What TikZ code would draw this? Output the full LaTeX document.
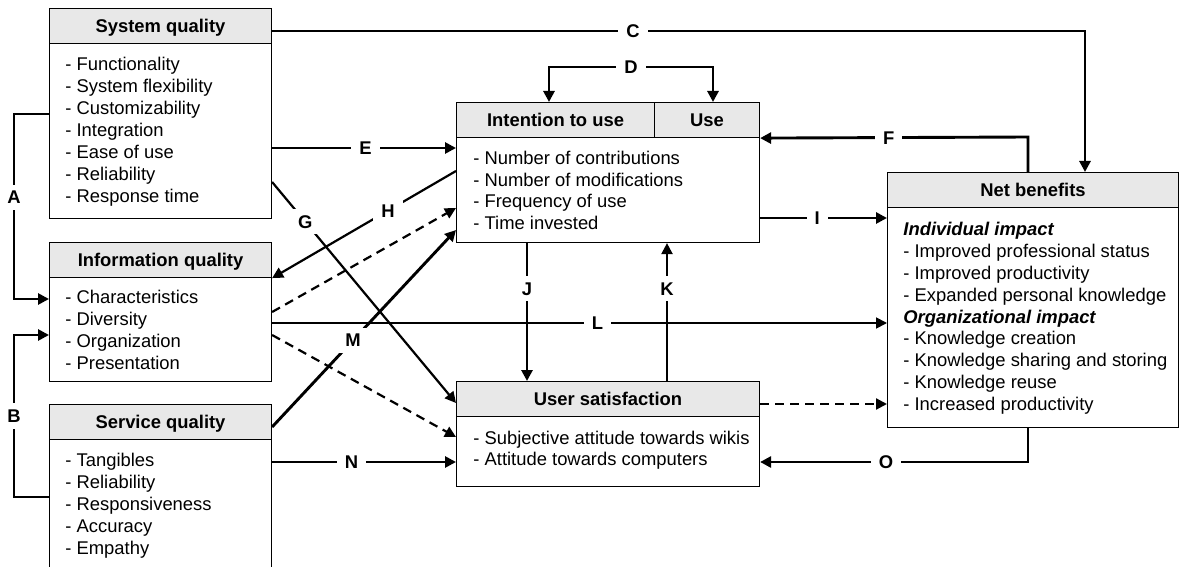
\documentclass[tikz,border=0pt]{standalone}
\usepackage{fontspec}
\setmainfont{Liberation Sans}
\usetikzlibrary{arrows.meta}
\definecolor{hdrgray}{HTML}{E8E8E8}
\begin{document}
\begin{tikzpicture}[x=0.5pt,y=-0.5pt,
  every node/.style={font=\fontsize{9.2}{11}\selectfont},
  hdr/.style={draw, line width=0.55pt, fill=hdrgray, anchor=north west, inner sep=0pt,
    font=\fontsize{9.2}{11}\selectfont\bfseries, text height=6.6pt, text depth=0pt},
  bodybox/.style={draw, line width=0.55pt, fill=white, anchor=north west, inner sep=0pt},
  items/.style={anchor=north west, align=left, inner sep=0pt},
  lbl/.style={fill=white, font=\fontsize{9.2}{11}\selectfont\bfseries, inner xsep=4pt, inner ysep=3pt, text height=6.6pt, text depth=0pt},
  tip/.style={-{Triangle[length=5.5pt,width=5.5pt]}},
  conn/.style={line width=1.45pt, tip},
  medconn/.style={line width=1.1pt, tip},
  thinconn/.style={line width=0.9pt, tip},
  dconn/.style={line width=1.1pt, dash pattern=on 4.5pt off 3pt, tip}
]
\useasboundingbox (0,0) rectangle (1179,567);

% ---------- boxes ----------
\node[hdr, minimum width=111pt, minimum height=17.5pt] (sysH) at (49,8) {System quality};
\node[bodybox, minimum width=111pt, minimum height=87.5pt] (sysB) at (49,43) {};
\node[items] (sysT) at (65,54) {\rule{0pt}{8pt}- Functionality\\- System flexibility\\- Customizability\\- Integration\\- Ease of use\\- Reliability\\- Response time};

\node[hdr, minimum width=111pt, minimum height=17.5pt] (infoH) at (49,242) {Information quality};
\node[bodybox, minimum width=111pt, minimum height=52pt] (infoB) at (49,277) {};
\node[items] (infoT) at (65,287) {\rule{0pt}{8pt}- Characteristics\\- Diversity\\- Organization\\- Presentation};

\node[hdr, minimum width=111pt, minimum height=17.5pt] (servH) at (49,404) {Service quality};
\node[bodybox, minimum width=111pt, minimum height=75pt] (servB) at (49,439) {};
\node[items] (servT) at (65,450) {\rule{0pt}{8pt}- Tangibles\\- Reliability\\- Responsiveness\\- Accuracy\\- Empathy};

\node[hdr, minimum width=99pt, minimum height=17.5pt] (intH) at (456,102) {Intention to use};
\node[hdr, minimum width=52.5pt, minimum height=17.5pt] (useH) at (654,102) {Use};
\node[bodybox, minimum width=151.5pt, minimum height=52.5pt] (intB) at (456,137) {};
\node[items, font=\fontsize{9.2}{10.85}\selectfont] (intT) at (473,148) {\rule{0pt}{8pt}- Number of contributions\\- Number of modifications\\- Frequency of use\\- Time invested};

\node[hdr, minimum width=151.5pt, minimum height=17.5pt] (usH) at (456,381) {User satisfaction};
\node[bodybox, minimum width=151.5pt, minimum height=35pt] (usB) at (456,416) {};
\node[items, font=\fontsize{9.2}{10.5}\selectfont] (usT) at (473,428) {\rule{0pt}{8pt}- Subjective attitude towards wikis\\- Attitude towards computers};

\node[hdr, minimum width=145.5pt, minimum height=17.5pt] (nbH) at (887,172) {Net benefits};
\node[bodybox, minimum width=145.5pt, minimum height=110pt] (nbB) at (887,207) {};
\node[items, font=\fontsize{9.2}{10.95}\selectfont] (nbT) at (903,219) {\rule{0pt}{8pt}\textbf{\itshape Individual impact}\\- Improved professional status\\- Improved productivity\\- Expanded personal knowledge\\\textbf{\itshape Organizational impact}\\- Knowledge creation\\- Knowledge sharing and storing\\- Knowledge reuse\\- Increased productivity};

% ---------- connectors ----------
% A
\draw[conn] (sysB.west |- 0,114) -- (14,114) -- node[lbl, pos=0.45] {A} (14,299) -- (infoB.west |- 0,299);
% B
\draw[conn] (servB.west |- 0,497) -- (14,497) -- node[lbl, pos=0.5] {B} (14,335) -- (infoB.west |- 0,335);
% C
\draw[conn] (sysH.east |- 0,31) -- node[lbl, pos=0.444] {C} (1085,31) -- (nbH.north -| 1085,0);
% D
\draw[line width=1.45pt, {Triangle[length=5.5pt,width=5.5pt]}-{Triangle[length=5.5pt,width=5.5pt]}]
  (intH.north -| 549,0) -- (549,67) -- node[lbl] {D} (713,67) -- (useH.north -| 713,0);
% E
\draw[conn] (sysB.east |- 0,148) -- node[lbl, pos=0.508] {E} (intB.west |- 0,148);
% F
\draw[conn] (nbH.north -| 1028,0) -- (1028,137) -- node[lbl, pos=0.52] {F} (useH.south east);
% G
\draw[medconn] (sysB.east |- 0,182) -- node[lbl, pos=0.18] {G} (usH.west |- 0,403);
% H
\draw[medconn] (intB.west |- 0,171) -- node[lbl, pos=0.37] {H} (infoH.south east);
% dashed info -> intention
\draw[dconn] (infoB.east |- 0,312) -- (intB.west |- 0,208);
% M
\draw[conn] (servH.east |- 0,427) -- node[lbl, pos=0.44] {M} (intB.west |- 0,230);
% L
\draw[thinconn] (infoB.east |- 0,323) -- node[lbl, pos=0.529] {L} (nbB.west |- 0,323);
% dashed info -> user satisfaction
\draw[dconn] (infoB.east |- 0,335) -- (usB.west |- 0,437);
% N
\draw[conn] (servB.east |- 0,462) -- node[lbl, pos=0.432] {N} (usB.west |- 0,462);
% I
\draw[conn] (intB.east |- 0,218) -- node[lbl, pos=0.45] {I} (nbB.west |- 0,218);
% J
\draw[conn] (intB.south -| 527,0) -- node[lbl, pos=0.33] {J} (usH.north -| 527,0);
% K
\draw[medconn] (usH.north -| 667,0) -- node[lbl, pos=0.67] {K} (intB.south -| 667,0);
% dashed user satisfaction -> net benefits
\draw[dconn] (usH.east |- 0,404) -- (nbB.west |- 0,404);
% O
\draw[conn] (nbB.south -| 1028,0) -- (1028,462) -- node[lbl, pos=0.53] {O} (usB.east |- 0,462);
\end{tikzpicture}
\end{document}
